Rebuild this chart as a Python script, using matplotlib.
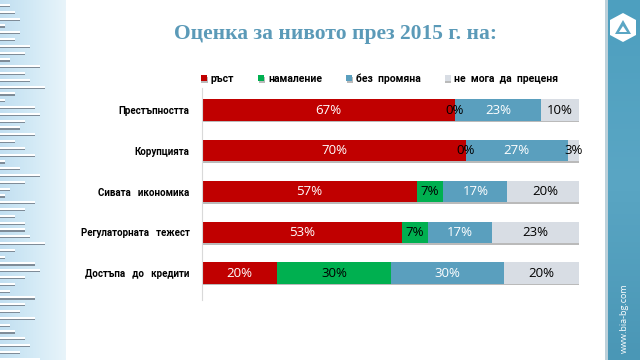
#!/usr/bin/env python3
"""Stacked bar chart: assessment of the level in 2015 (BIA survey slide)."""

import numpy as np
import matplotlib
matplotlib.use("Agg")
from matplotlib import pyplot as plt
from matplotlib import patheffects as pe
from matplotlib.patches import Rectangle, Polygon
from matplotlib.colors import LinearSegmentedColormap

plt.rcParams["font.family"] = ["Open Sans", "DejaVu Sans"]

TITLE = "Оценка за нивото през 2015 г. на:"
CATEGORIES = [
    "Престъпността",
    "Корупцията",
    "Сивата   икономика",
    "Регулаторната   тежест",
    "Достъпа   до   кредити",
]
SERIES = ["ръст", "намаление", "без  промяна", "не  мога  да  преценя"]
GROWTH = [67, 70, 57, 53, 20]
DECREASE = [0, 0, 7, 7, 30]
NO_CHANGE = [23, 27, 17, 17, 30]
CANT_SAY = [10, 3, 20, 23, 20]

COLORS = ["#c00000", "#00b050", "#5a9fbe", "#d8dde4"]
LABEL_COLORS = ["white", "black", "white", "black"]

# decorative stripes of the slide's left panel (lengths in px)
STRIPE_LEN = [10, 15, 20, 5, 20, 15, 30, 25, 10, 40, 25, 30, 45, 15, 5, 35,
              40, 25, 20, 35, 15, 25, 35, 5, 20, 40, 25, 10, 5, 35, 25, 15,
              25, 25, 30, 45, 15, 5, 35, 40, 25, 15, 10, 35, 25, 20, 35, 10,
              15, 25, 30, 20, 40]

W, H = 640, 360
fig = plt.figure(figsize=(6.4, 3.6), dpi=100)
fig.patch.set_facecolor("white")

# slide background decoration in pixel coordinates
bg = fig.add_axes([0, 0, 1, 1], zorder=-5)
bg.set_xlim(0, W)
bg.set_ylim(H, 0)
bg.axis("off")
bg.imshow(np.linspace(0, 1, 64)[None, :], extent=(0, 66, H, 0),
          cmap=LinearSegmentedColormap.from_list("lp", ["#c2dff1", "#d3eaf6", "#e8f4fa"]),
          aspect="auto", zorder=0)
for i, ln in enumerate(STRIPE_LEN):
    y = 4 + i * 6.8
    bg.add_patch(Rectangle((0, y + 1.6), ln, 1.6, color="#7f8c98", lw=0, zorder=1))
    bg.add_patch(Rectangle((0, y), ln, 2.0, color="white", lw=0, zorder=2))
bg.imshow(np.linspace(0, 1, 64)[:, None], extent=(607, W, H, 0),
          cmap=LinearSegmentedColormap.from_list("rp", ["#4d9fbf", "#5aa6c4", "#4a97b6"]),
          aspect="auto", zorder=0)
bg.add_patch(Rectangle((605, 0), 2.5, H, color="#bcd0da", lw=0, zorder=1))
bg.add_patch(Polygon([(623, 13), (636, 20), (636, 35), (623, 42), (610, 35), (610, 20)],
                     closed=True, color="white", lw=0, zorder=2))
bg.add_patch(Polygon([(623, 20), (631, 34), (615, 34)], closed=True, color="#5aa6c4", lw=0, zorder=3))
bg.add_patch(Polygon([(623, 26), (627, 32), (619, 32)], closed=True, color="white", lw=0, zorder=4))
bg.text(624, 318, "www.bia-bg.com", rotation=90, color="white", fontsize=6.5,
        ha="center", va="center")

fig.text(336 / W, 0.905, TITLE, ha="center", va="center", color="#5b9ab8",
         fontsize=15.5, fontweight="bold", family=["Liberation Serif", "DejaVu Serif"])

ax = fig.add_axes([202 / W, 1 - 300 / H, 377 / W, 212 / H])
ax.patch.set_alpha(0)
y = np.arange(len(CATEGORIES))
values = [GROWTH, DECREASE, NO_CHANGE, CANT_SAY]
left = np.zeros(len(CATEGORIES))
shadow = [pe.SimplePatchShadow(offset=(0.4, -1.2), shadow_rgbFace="#8c8c8c", alpha=0.6), pe.Normal()]
for vals, name, col, lcol in zip(values, SERIES, COLORS, LABEL_COLORS):
    vals = np.array(vals, dtype=float)
    bars = ax.barh(y, vals, left=left, height=0.52, color=col, label=name, lw=0)
    for b in bars:
        b.set_path_effects(shadow)
    for yi, v, l0 in zip(y, vals, left):
        c = "black" if v == 0 else lcol
        ax.text(l0 + v / 2, yi, f"{int(v)}%", ha="center", va="center",
                color=c, fontsize=9.5)
    left += vals

ax.set_xlim(0, 100)
ax.set_ylim(4.66, -0.54)
ax.set_yticks(y)
ax.set_yticklabels(CATEGORIES, fontsize=7, fontweight="bold", family=["Roboto", "DejaVu Sans"])
ax.tick_params(axis="y", length=0, pad=9)
ax.set_xticks([])
for s in ["top", "right", "bottom"]:
    ax.spines[s].set_visible(False)
ax.spines["left"].set_color("#d9d9d9")
ax.spines["left"].set_linewidth(0.8)

ax.legend(loc="lower left", bbox_to_anchor=(-0.014, 1.0), ncol=4, frameon=False,
          handlelength=0.6, handleheight=0.6, handletextpad=0.35, columnspacing=2.3,
          prop={"size": 7.5, "weight": "bold", "family": ["Roboto", "DejaVu Sans"]},
          borderaxespad=0.0)

fig.savefig("out.png", dpi=100)
